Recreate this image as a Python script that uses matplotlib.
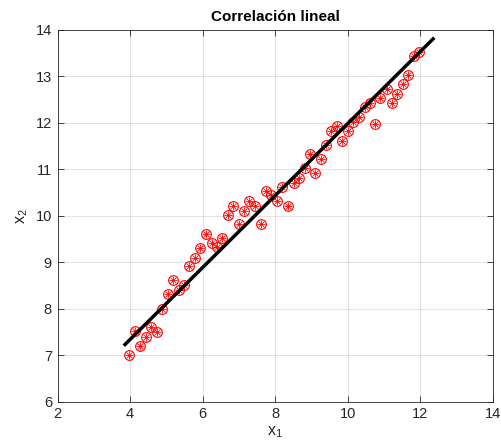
import matplotlib
matplotlib.use("Agg")
import matplotlib.pyplot as plt
import numpy as np

plt.rcParams['font.family'] = ['Liberation Sans', 'DejaVu Sans']

x1 = [3.98, 4.13, 4.28, 4.45, 4.58, 4.73, 4.89, 5.04, 5.19, 5.34, 5.48, 5.63,
      5.79, 5.93, 6.09, 6.25, 6.39, 6.54, 6.70, 6.84, 6.99, 7.15, 7.29, 7.45,
      7.60, 7.74, 7.89, 8.05, 8.19, 8.35, 8.51, 8.66, 8.81, 8.96, 9.09, 9.25,
      9.40, 9.54, 9.69, 9.85, 10.00, 10.15, 10.31, 10.46, 10.61, 10.76, 10.90,
      11.07, 11.21, 11.36, 11.51, 11.66, 11.81, 11.96]
x2 = [7.00, 7.51, 7.20, 7.40, 7.61, 7.50, 8.00, 8.31, 8.61, 8.41, 8.51, 8.91,
      9.10, 9.31, 9.61, 9.41, 9.33, 9.51, 10.01, 10.21, 9.81, 10.11, 10.32, 10.21,
      9.81, 10.52, 10.44, 10.32, 10.62, 10.21, 10.70, 10.81, 11.02, 11.32, 10.92, 11.22,
      11.52, 11.83, 11.92, 11.61, 11.83, 12.02, 12.11, 12.33, 12.42, 11.96, 12.52,
      12.72, 12.42, 12.62, 12.83, 13.03, 13.43, 13.52]

fit_x = [3.86, 12.35]
fit_y = [7.23, 13.80]

xticks = [2, 4, 6, 8, 10, 12, 14]
yticks = [6, 7, 8, 9, 10, 11, 12, 13, 14]

dark = (0.15, 0.15, 0.15)

fig = plt.figure(figsize=(5.01, 4.48), dpi=100)
ax = fig.add_axes([0.1148, 0.1033, 0.984 - 0.1148, 0.934 - 0.1033])

ax.plot(x1, x2, linestyle='none', marker='o', markersize=7, markerfacecolor='none',
        markeredgecolor='red', markeredgewidth=0.8, zorder=3)
ax.plot(x1, x2, linestyle='none', marker='+', markersize=6, color='red',
        markeredgewidth=0.6, zorder=3)
ax.plot(x1, x2, linestyle='none', marker='x', markersize=4.5, color='red',
        markeredgewidth=0.6, zorder=3)
ax.plot(fit_x, fit_y, color='black', linewidth=2.5, zorder=4)

ax.set_xlim(2, 14)
ax.set_ylim(6, 14)
ax.set_xticks(xticks)
ax.set_yticks(yticks)
ax.grid(True, color=dark, alpha=0.12, linewidth=0.8)
ax.set_axisbelow(True)
ax.tick_params(direction='in', top=True, right=True, length=4, width=0.6,
               colors=dark, labelsize=10.5, labelcolor=dark, pad=4)
for s in ax.spines.values():
    s.set_color(dark)
    s.set_linewidth(0.6)

ax.set_title('Correlación lineal', fontsize=11, fontweight='bold', color='black', pad=6)
ax.set_xlabel(r'$\mathregular{x_1}$', fontsize=11.5, color=dark, labelpad=2)
ax.set_ylabel(r'$\mathregular{x_2}$', fontsize=11.5, color=dark, labelpad=4)

fig.savefig('out.png', dpi=100)
